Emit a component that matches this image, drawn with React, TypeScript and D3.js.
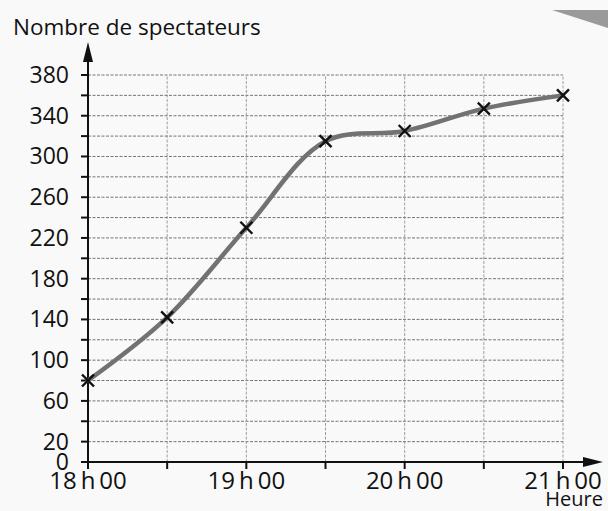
import * as d3 from 'd3';
import React from 'react';

// heures en minutes depuis 18h00
const minutes = [0, 30, 60, 90, 120, 150, 180];
const spectateurs = [80, 142, 230, 315, 325, 347, 360];
const xLabels = ['18\u2009h\u200900', '19\u2009h\u200900', '20\u2009h\u200900', '21\u2009h\u200900'];
const yLabels = [0, 20, 60, 100, 140, 180, 220, 260, 300, 340, 380];

const width = 608;
const height = 511;
const font = "'Open Sans', 'DejaVu Sans', sans-serif";

const App = () => {
  const x = d3.scaleLinear().domain([0, 180]).range([88, 563]);
  const y = d3.scaleLinear().domain([0, 380]).range([462, 75]);

  const hLines = d3.range(20, 400, 20);
  const vLines = d3.range(30, 210, 30);

  const line = d3
    .line<number>()
    .x((_, i) => x(minutes[i]))
    .y((d) => y(d))
    .curve(d3.curveCatmullRom.alpha(0.5));

  return (
    <svg
      width={width}
      height={height}
      style={{ position: 'absolute', left: 0, top: 0, background: '#f9f9f9' }}
    >
      <polygon points="552,10 608,10 608,28" fill="#9a9a9a" />

      {/* grille */}
      <g stroke="#666" strokeWidth={0.9} strokeDasharray="3,1.5">
        {hLines.map((v) => (
          <line key={'h' + v} x1={x(0)} x2={x(180)} y1={y(v)} y2={y(v)} />
        ))}
      </g>
      <g stroke="#888" strokeWidth={0.8} strokeDasharray="3,1.5">
        {vLines.map((m) => (
          <line key={'v' + m} x1={x(m)} x2={x(m)} y1={y(0)} y2={y(380)} />
        ))}
      </g>

      {/* axes */}
      <g stroke="#111" strokeWidth={2}>
        <line x1={x(0)} x2={x(0)} y1={y(0) + 7} y2={55} />
        <line x1={x(0)} x2={590} y1={y(0)} y2={y(0)} />
        {d3.range(0, 400, 20).map((v) => (
          <line key={'yt' + v} x1={x(0) - 7} x2={x(0)} y1={y(v)} y2={y(v)} />
        ))}
        {d3.range(0, 210, 30).map((m) => (
          <line key={'xt' + m} x1={x(m)} x2={x(m)} y1={y(0)} y2={y(0) + 7} />
        ))}
      </g>
      <polygon points="88,42 83,62 93,62" fill="#111" />
      <polygon points="603,462 583,457 583,467" fill="#111" />

      {/* labels */}
      <g fontFamily={font} fill="#111">
        {yLabels.map((v) => (
          <text key={'yl' + v} x={x(0) - 19} y={y(v) + 8} textAnchor="end" fontSize={23}>
            {v}
          </text>
        ))}
        {xLabels.map((t, i) => (
          <text key={'xl' + t} x={x(i * 60)} y={489} textAnchor="middle" fontSize={24}>
            {t}
          </text>
        ))}
        <text x={13} y={35} fontSize={22.5}>
          Nombre de spectateurs
        </text>
        <text x={603} y={506} textAnchor="end" fontSize={20}>
          Heure
        </text>
      </g>

      {/* courbe */}
      <path
        d={line(spectateurs) || ''}
        fill="none"
        stroke="#727272"
        strokeWidth={4.5}
        strokeLinecap="round"
      />
      <g stroke="#111" strokeWidth={2.4}>
        {spectateurs.map((v, i) => {
          const cx = x(minutes[i]);
          const cy = y(v);
          return (
            <g key={'m' + i}>
              <line x1={cx - 6} x2={cx + 6} y1={cy - 6} y2={cy + 6} />
              <line x1={cx - 6} x2={cx + 6} y1={cy + 6} y2={cy - 6} />
            </g>
          );
        })}
      </g>
    </svg>
  );
};

export default App;
